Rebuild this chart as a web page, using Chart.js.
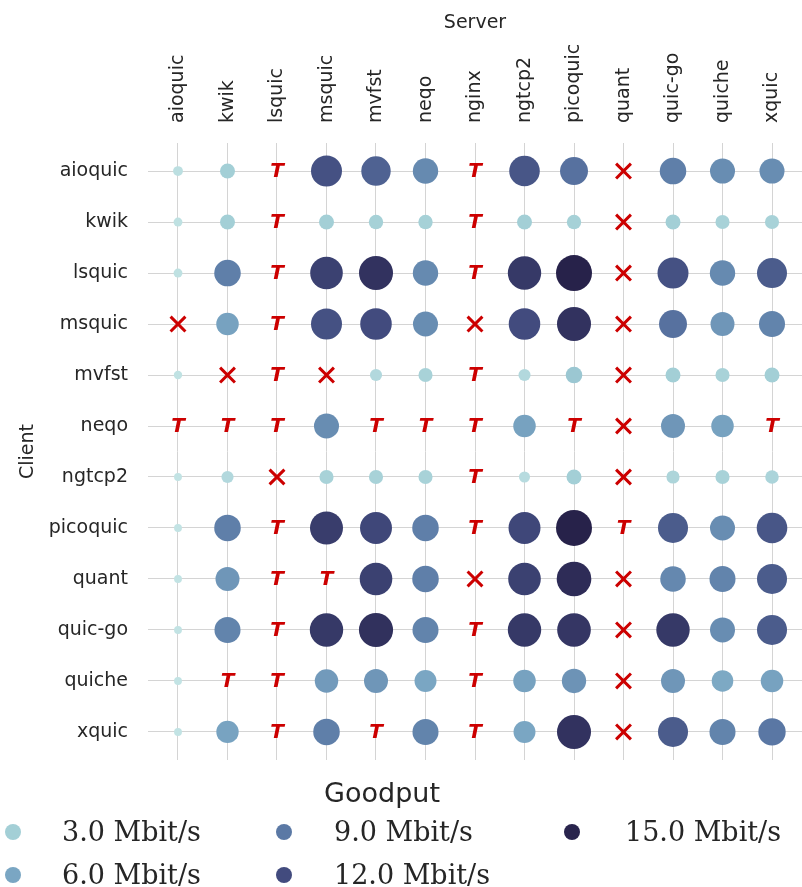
<!DOCTYPE html>
<html><head><meta charset="utf-8">
<script src="https://cdn.jsdelivr.net/npm/chart.js@4.4.1/dist/chart.umd.min.js"></script>
<style>
html,body{margin:0;padding:0;background:#fff;}
#wrap{position:relative;width:802px;height:887px;overflow:hidden;}
#c{position:absolute;left:0;top:0;}
#legend{position:absolute;left:0;top:760px;width:802px;height:127px;color:#262626;}
.lt{position:absolute;left:0;width:764px;top:14px;text-align:center;font-family:'DejaVu Sans';font-size:27px;line-height:38px;}
.lm{position:absolute;width:16px;height:16px;border-radius:50%;}
.lx{position:absolute;font-family:'DejaVu Serif';font-size:27px;line-height:36px;white-space:nowrap;}
</style></head>
<body><div id="wrap"><canvas id="c" width="802" height="887"></canvas><div id="legend"></div></div>
<script>
// ---- data ----
const servers = ['aioquic','kwik','lsquic','msquic','mvfst','neqo','nginx','ngtcp2','picoquic','quant','quic-go','quiche','xquic'];
const clients = ['aioquic','kwik','lsquic','msquic','mvfst','neqo','ngtcp2','picoquic','quant','quic-go','quiche','xquic'];
// goodput in Mbit/s per server; 'T' = timeout, 'X' = failed
const rowAioquic  = [1.5, 3.0, 'T', 11.6, 10.5, 7.9, 'T', 11.3, 9.5, 'X', 8.6, 7.7, 7.7];
const rowKwik     = [1.3, 3.0, 'T', 3.0, 2.8, 2.8, 'T', 3.0, 2.8, 'X', 3.0, 2.7, 2.7];
const rowLsquic   = [1.3, 8.6, 'T', 12.8, 13.9, 7.9, 'T', 13.4, 15.5, 'X', 11.6, 7.9, 10.9];
const rowMsquic   = ['X', 6.3, 'T', 11.6, 12.0, 7.7, 'X', 12.0, 13.9, 'X', 9.5, 7.1, 8.3];
const rowMvfst    = [1.2, 'X', 'T', 'X', 2.1, 2.7, 'T', 2.1, 3.6, 'X', 3.0, 2.7, 3.0];
const rowNeqo     = ['T', 'T', 'T', 7.7, 'T', 'T', 'T', 6.3, 'T', 'X', 7.1, 6.3, 'T'];
const rowNgtcp2   = [1.1, 2.1, 'X', 2.7, 2.7, 2.7, 'T', 1.8, 3.0, 'X', 2.4, 2.7, 2.5];
const rowPicoquic = [1.1, 8.6, 'T', 13.1, 12.3, 8.6, 'T', 12.3, 15.5, 'T', 10.9, 7.7, 11.3];
const rowQuant    = [1.1, 7.1, 'T', 'T', 12.8, 8.6, 'X', 12.8, 14.4, 'X', 8.0, 8.3, 10.9];
const rowQuicGo   = [1.1, 8.3, 'T', 13.4, 14.0, 8.3, 'T', 13.4, 13.6, 'X', 13.4, 7.7, 10.9];
const rowQuiche   = [1.1, 'T', 'T', 6.8, 7.1, 6.0, 'T', 6.3, 7.3, 'X', 7.1, 5.8, 6.3];
const rowXquic    = [1.1, 6.2, 'T', 8.6, 'T', 8.3, 'T', 6.0, 13.9, 'X', 10.9, 8.3, 9.1];
const legendValues = [3.0, 6.0, 9.0, 12.0, 15.0];
const legendLabels = ['3.0 Mbit/s', '6.0 Mbit/s', '9.0 Mbit/s', '12.0 Mbit/s', '15.0 Mbit/s'];

const rows = [rowAioquic,rowKwik,rowLsquic,rowMsquic,rowMvfst,rowNeqo,rowNgtcp2,rowPicoquic,rowQuant,rowQuicGo,rowQuiche,rowXquic];

// ---- palette ----
const stopV = [0, 3, 6, 9, 12, 15, 18];
const stopC = ['#d4eeec', '#a3cfd6', '#7aa6c3', '#5b79a5', '#424b7e', '#29244d', '#1c1638'];
function hex2rgb(h){return [parseInt(h.substr(1,2),16),parseInt(h.substr(3,2),16),parseInt(h.substr(5,2),16)];}
function colorFor(v){
  for(let i=0;i<stopV.length-1;i++){
    if(v<=stopV[i+1]){
      const t=(v-stopV[i])/(stopV[i+1]-stopV[i]);
      const a=hex2rgb(stopC[i]), b=hex2rgb(stopC[i+1]);
      return 'rgb('+a.map((x,k)=>Math.round(x+(b[k]-x)*t)).join(',')+')';
    }
  }
  return stopC[stopC.length-1];
}
function radiusFor(v){return Math.sqrt(Math.max(21.4*v-8, 9));}

const bubbles=[], fails=[], timeouts=[];
rows.forEach((row,ci)=>{
  row.forEach((v,si)=>{
    if(v==='T') timeouts.push({x:si,y:ci,r:0});
    else if(v==='X') fails.push({x:si,y:ci,r:10.5});
    else bubbles.push({x:si,y:ci,r:radiusFor(v),v:v});
  });
});

const RED='#cc0000';
const tPlugin={
  id:'tmarks',
  afterDatasetsDraw(chart){
    const meta=chart.getDatasetMeta(2);
    const ctx=chart.ctx;
    ctx.save();
    ctx.fillStyle=RED;
    ctx.font='italic bold 20px "DejaVu Sans"';
    ctx.textAlign='center';ctx.textBaseline='middle';
    meta.data.forEach(p=>{ctx.fillText('T',p.x,p.y+1);});
    ctx.restore();
  }
};

Chart.defaults.font.family='"DejaVu Sans"';
Chart.defaults.color='#262626';

new Chart(document.getElementById('c'),{
  type:'bubble',
  data:{datasets:[
    {label:'Goodput',data:bubbles,backgroundColor:bubbles.map(b=>colorFor(b.v)),borderWidth:0,hoverBorderWidth:0},
    {label:'Failed',data:fails,pointStyle:'crossRot',borderColor:RED,backgroundColor:RED,borderWidth:3},
    {label:'Timeout',data:timeouts,backgroundColor:'rgba(0,0,0,0)',borderWidth:0}
  ]},
  options:{
    responsive:false,animation:false,
    layout:{autoPadding:false,padding:{left:0,right:0,top:0,bottom:127}},
    plugins:{legend:{display:false},tooltip:{enabled:false}},
    scales:{
      x:{type:'linear',position:'top',min:-0.606,max:12.606,
        afterBuildTicks(s){s.ticks=servers.map((_,i)=>({value:i}));},
        afterFit(s){s.height=143;s.paddingLeft=0;s.paddingRight=0;},
        ticks:{autoSkip:false,minRotation:90,maxRotation:90,padding:20,labelOffset:23,font:{size:19},color:'#262626',
          callback:(v)=>servers[v]},
        grid:{color:'#d4d4d4',lineWidth:1,drawTicks:false},
        border:{display:false},
        title:{display:true,text:'Server',font:{size:19},color:'#262626',padding:{top:12,bottom:0}}
      },
      y:{type:'linear',reverse:true,min:-0.55,max:11.55,
        afterBuildTicks(s){s.ticks=clients.map((_,i)=>({value:i}));},
        afterFit(s){s.width=148;s.paddingTop=0;s.paddingBottom=0;},
        ticks:{autoSkip:false,padding:20,font:{size:19},color:'#262626',callback:(v)=>clients[v]},
        grid:{color:'#d4d4d4',lineWidth:1,drawTicks:false},
        border:{display:false},
        title:{display:true,text:'Client',font:{size:19},color:'#262626',padding:{top:17,bottom:0}}
      }
    }
  },
  plugins:[tPlugin]
});

// ---- legend ----
const lg=document.getElementById('legend');
const t=document.createElement('div');t.className='lt';t.textContent='Goodput';lg.appendChild(t);
const mx=[13,13,284,284,572], tx=[62,62,334,334,625], cy=[72,115,72,115,72];
legendValues.forEach((v,i)=>{
  const m=document.createElement('div');m.className='lm';
  m.style.left=(mx[i]-8)+'px';m.style.top=(cy[i]-8)+'px';m.style.background=colorFor(v);
  lg.appendChild(m);
  const s=document.createElement('div');s.className='lx';
  s.style.left=tx[i]+'px';s.style.top=(cy[i]-18)+'px';s.textContent=legendLabels[i];
  lg.appendChild(s);
});
</script></body></html>
